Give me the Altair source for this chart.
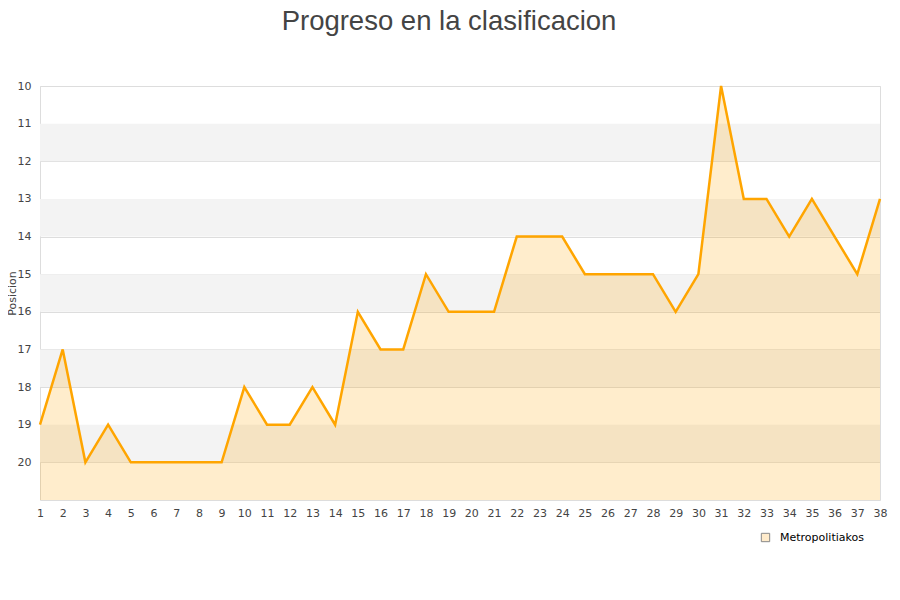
import altair as alt
import pandas as pd

jornadas = list(range(1, 39))
posiciones = [19, 17, 20, 19, 20, 20, 20, 20, 20, 18,
              19, 19, 18, 19, 16, 17, 17, 15, 16, 16,
              16, 14, 14, 14, 15, 15, 15, 15, 16, 15,
              10, 13, 13, 14, 13, 14, 15, 13]
team = "Metropolitiakos"
band_start = [11, 13, 15, 17, 19]
band_end = [12, 14, 16, 18, 20]

df = pd.DataFrame({"jornada": jornadas, "pos": posiciones, "team": team})
bands = pd.DataFrame({"y": band_start, "y2": band_end})

xscale = alt.Scale(domain=[1, 38], nice=False, zero=False)
yscale = alt.Scale(domain=[10, 21], reverse=True, nice=False, zero=False)

xaxis = alt.Axis(values=jornadas, title=None, ticks=False, domain=False, grid=False,
                 labelPadding=7, labelFontSize=11, labelColor="#444", labelFont="DejaVu Sans",
                 labelFlush=False, labelOverlap=False)
yaxis = alt.Axis(values=list(range(10, 21)), title="Posicion", ticks=False, domain=False,
                 grid=True, gridColor="#dddddd", labelPadding=9, labelFontSize=11,
                 labelColor="#444", labelFont="DejaVu Sans", titleFontSize=11,
                 titleFont="DejaVu Sans", titleFontWeight="normal", titleColor="#444",
                 titlePadding=0, labelOverlap=False)

band_layer = alt.Chart(bands).mark_rect(color="#f3f3f3").encode(
    y=alt.Y("y:Q", scale=yscale, axis=yaxis),
    y2="y2:Q",
)

area = alt.Chart(df).mark_area(color="#FFA500", fillOpacity=0.2, line=False).encode(
    x=alt.X("jornada:Q", scale=xscale, axis=xaxis),
    y=alt.Y("pos:Q", scale=yscale, axis=yaxis),
    y2=alt.datum(21),
)

line = alt.Chart(df).mark_line(color="#FFA500", strokeWidth=2.5).encode(
    x=alt.X("jornada:Q", scale=xscale, axis=xaxis),
    y=alt.Y("pos:Q", scale=yscale, axis=yaxis),
)

legend_layer = alt.Chart(df).mark_point(shape="square", filled=True, opacity=0).encode(
    x=alt.X("jornada:Q", scale=xscale, axis=xaxis),
    y=alt.Y("pos:Q", scale=yscale, axis=yaxis),
    color=alt.Color("team:N", scale=alt.Scale(range=["#FFEBCB"]),
                    legend=alt.Legend(orient="none", legendX=720, legendY=446, title=None,
                                      symbolOpacity=1, symbolStrokeColor="#888",
                                      symbolStrokeWidth=1, symbolSize=70,
                                      labelFontSize=11, labelColor="#000",
                                      labelFont="DejaVu Sans", labelOffset=9)),
)

chart = alt.layer(band_layer, area, line, legend_layer).properties(
    width=840, height=414,
    title=alt.TitleParams("Progreso en la clasificacion", fontSize=27.5, font="Liberation Sans",
                          fontWeight="normal", color="#444", anchor="middle", dx=-11,
                          offset=45),
    autosize=alt.AutoSizeParams(type="none"),
    padding={"left": 32, "top": 78, "right": 12, "bottom": 84},
).configure_view(stroke="#dddddd", strokeWidth=1).configure_axis(
    labelOverlap=False
).configure(background="white")

chart.save("out.html", embed_options={"renderer": "svg", "actions": False})
